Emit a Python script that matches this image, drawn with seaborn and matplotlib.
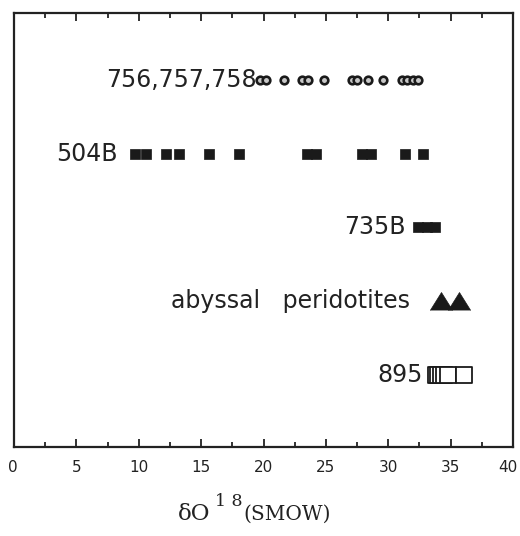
import matplotlib
matplotlib.use("Agg")
import matplotlib.pyplot as plt
from matplotlib.ticker import MultipleLocator
from matplotlib.transforms import ScaledTranslation
import seaborn as sns
import pandas as pd

sns.set_theme(style="white")
plt.rcParams['font.family'] = ['DejaVu Sans']

# ---- data (δ18O values) ----
rows = ["756,757,758", "504B", "735B", "abyssal   peridotites", "895"]
v_756 = [19.7, 20.2, 21.67, 23.06, 23.54, 24.85, 27.1, 27.5, 28.4, 29.6, 31.1, 31.5, 32.0, 32.4]
v_504B = [9.7, 10.6, 12.2, 13.2, 15.6, 18.0, 23.5, 24.2, 27.9, 28.6, 31.35, 32.75]
v_735B = [32.4, 33.1, 33.75]
v_abyssal = [34.2, 35.7]
v_895 = [33.81, 33.97, 34.25, 34.43, 34.75, 36.06]
values = [v_756, v_504B, v_735B, v_abyssal, v_895]
xticks = [0, 5, 10, 15, 20, 25, 30, 35, 40]

df = pd.DataFrame({
    "group": [g for g, v in zip(rows, values) for _ in v],
    "d18O": [x for v in values for x in v],
})
df["row"] = df["group"].map({g: i for i, g in enumerate(rows)})

tri = [(-1, -0.8), (0, 0.8), (1, -0.8)]
styles = {
    rows[0]: dict(marker="o", s=30, facecolor="#c8c8c8", edgecolor="#1a1a1a", linewidth=1.9),
    rows[1]: dict(marker="s", s=48, facecolor="#1a1a1a", edgecolor="#1a1a1a", linewidth=0.5),
    rows[2]: dict(marker="s", s=48, facecolor="#1a1a1a", edgecolor="#1a1a1a", linewidth=0.5),
    rows[3]: dict(marker=tri, s=260, facecolor="#1a1a1a", edgecolor="#1a1a1a", linewidth=0.5),
    rows[4]: dict(marker="s", s=135, facecolor="white", edgecolor="#1a1a1a", linewidth=1.3),
}
label_gap_px = {rows[0]: 3, rows[1]: 17, rows[2]: 13, rows[3]: 31, rows[4]: 13}

fig = plt.figure(figsize=(5.2, 5.36), dpi=100)
ax = fig.add_axes([14/520, 1-447/536, (513-14)/520, (447-13)/536])

for g in rows:
    sub = df[df["group"] == g]
    sns.scatterplot(data=sub, x="d18O", y="row", ax=ax, legend=False, zorder=3, **styles[g])
    i = rows.index(g)
    ax.annotate(g, xy=(min(sub["d18O"]), i), xytext=(-label_gap_px[g]*0.72, 0),
                textcoords="offset points", ha="right", va="center",
                fontsize=17, color="#222222")

ax.set_xlim(0, 40)
ax.set_ylim(4.98, -0.91)
ax.set_yticks([])
ax.set_ylabel("")
ax.set_xlabel("")
ax.set_xticks(xticks, [str(t) for t in xticks])
ax.xaxis.set_minor_locator(MultipleLocator(2.5))
ax.tick_params(axis="x", which="both", direction="in", top=True, bottom=True,
               width=1.3, color="#222222", labelsize=11, labelcolor="#222222", pad=9)
ax.tick_params(axis="x", which="major", length=6)
ax.tick_params(axis="x", which="minor", length=3.5)
for sp in ax.spines.values():
    sp.set_visible(True)
    sp.set_linewidth(1.6)
    sp.set_color("#222222")

# keep the "40" label inside the figure, as in the reference
last = ax.xaxis.get_major_ticks()[len(xticks) - 1].label1
last.set_transform(last.get_transform() + ScaledTranslation(-5/100, 0, fig.dpi_scale_trans))
first = ax.xaxis.get_major_ticks()[0].label1
first.set_transform(first.get_transform() + ScaledTranslation(-1.5/100, 0, fig.dpi_scale_trans))

# x-axis title: δO18(SMOW)
serif = ['DejaVu Serif']
fig.text(178/520, 1-520/536, "δO", fontsize=16.5, family=serif, color="#222222", va="baseline", ha="left")
fig.text(215/520, 1-506/536, "1 8", fontsize=12.5, family=serif, color="#222222", va="baseline", ha="left")
fig.text(243/520, 1-520/536, "(SMOW)", fontsize=14.5, family=serif, color="#222222", va="baseline", ha="left")

fig.savefig("out.png", dpi=100)
